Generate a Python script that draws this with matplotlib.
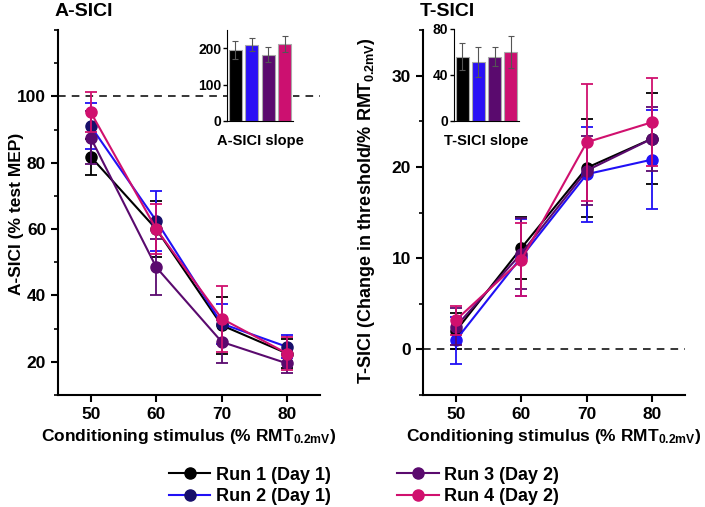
import matplotlib.pyplot as plt
import numpy as np
from matplotlib.lines import Line2D
from matplotlib.ticker import MultipleLocator

plt.rcParams["font.family"] = ["Liberation Sans", "DejaVu Sans"]
plt.rcParams["font.weight"] = "bold"
plt.rcParams["mathtext.fontset"] = "custom"
plt.rcParams["mathtext.rm"] = "Liberation Sans:bold"
plt.rcParams["mathtext.it"] = "Liberation Sans:bold"
plt.rcParams["mathtext.bf"] = "Liberation Sans:bold"

# conditioning stimulus (% RMT)
stim = [50, 60, 70, 80]
runs = ["Run 1 (Day 1)", "Run 2 (Day 1)", "Run 3 (Day 2)", "Run 4 (Day 2)"]

# A-SICI (% test MEP), mean and error
asici_mean = [
    [81.8, 60.0, 31.0, 22.5],
    [91.0, 62.5, 31.5, 24.5],
    [87.5, 48.5, 26.0, 19.5],
    [95.2, 60.0, 33.0, 22.5],
]
asici_err = [
    [5.5, 8.5, 8.5, 4.5],
    [7.0, 9.0, 6.0, 3.5],
    [8.0, 8.5, 6.5, 3.0],
    [6.0, 7.5, 10.0, 5.0],
]

# T-SICI (change in threshold), mean and error
tsici_mean = [
    [2.0, 11.1, 19.9, 23.1],
    [1.0, 10.1, 19.2, 20.8],
    [2.5, 10.5, 19.6, 23.1],
    [3.2, 9.8, 22.7, 24.9],
]
tsici_err = [
    [2.0, 3.4, 5.4, 5.0],
    [2.6, 4.2, 5.2, 5.4],
    [2.0, 3.9, 3.8, 3.5],
    [1.6, 4.0, 6.4, 4.8],
]

# slope insets
asici_slope = [195, 210, 182, 212]
asici_slope_err = [24, 17, 21, 22]
tsici_slope = [56, 51, 56, 60]
tsici_slope_err = [12, 13, 8.5, 14]

line_colors = ["#000000", "#2010f5", "#5a0a6e", "#d0106e"]
marker_colors_a = ["#000000", "#170f6a", "#5a0a6e", "#d0106e"]
marker_colors_t = ["#000000", "#2010f5", "#5a0a6e", "#d0106e"]
bar_colors = ["#000000", "#2a10f5", "#5a0a6e", "#cc1070"]

W, H = 705, 507
fig = plt.figure(figsize=(W / 100, H / 100), dpi=100)


def px_axes(x0, y0, x1, y1):
    return fig.add_axes([x0 / W, 1 - y1 / H, (x1 - x0) / W, (y1 - y0) / H])


def style_main(ax):
    for s in ["top", "right"]:
        ax.spines[s].set_visible(False)
    for s in ["left", "bottom"]:
        ax.spines[s].set_linewidth(1.5)
    ax.tick_params(which="major", direction="out", length=5, width=1.5, labelsize=12.5)
    ax.tick_params(which="minor", direction="out", length=3, width=1.2)
    ax.tick_params(axis="x", which="minor", bottom=False)


def draw_panel(ax, means, errs, mcolors):
    for i in range(len(runs)):
        ax.errorbar(stim, means[i], yerr=errs[i], color=line_colors[i], lw=1.5,
                    marker="o", ms=8, mfc=mcolors[i], mec=mcolors[i],
                    ecolor=line_colors[i], elinewidth=1.3, capsize=4.5, capthick=1.3,
                    zorder=3 + i)
    ax.set_xlim(45, 85)
    ax.set_xticks(stim)
    ax.set_xlabel(r"Conditioning stimulus (% RMT$_{\mathrm{0.2mV}}$)", fontsize=12.5,
                  fontweight="bold")


def draw_inset(ax, vals, errs, ymax, yticks, label):
    ax.bar(range(4), vals, width=0.8, color=bar_colors, edgecolor="#aaaaaa", linewidth=0.8)
    ax.errorbar(range(4), vals, yerr=errs, fmt="none", ecolor="#555555",
                elinewidth=0.8, capsize=2.5, capthick=0.8)
    ax.set_xlim(-0.5, 3.5)
    ax.set_ylim(0, ymax)
    ax.set_yticks(yticks)
    ax.set_xticks([])
    for s in ["top", "right"]:
        ax.spines[s].set_visible(False)
    ax.tick_params(axis="y", labelsize=10, length=3, width=1, pad=1)
    ax.set_xlabel(label, fontsize=10.5, fontweight="bold", labelpad=9)


# left panel: A-SICI
ax1 = px_axes(58, 30, 320, 395)
style_main(ax1)
draw_panel(ax1, asici_mean, asici_err, marker_colors_a)
ax1.axhline(100, color="black", lw=1.1, ls=(0, (5, 4)), zorder=1)
ax1.set_ylim(10, 120)
ax1.set_yticks([20, 40, 60, 80, 100])
ax1.yaxis.set_minor_locator(MultipleLocator(10))
ax1.set_ylabel("A-SICI (% test MEP)", fontsize=12.5, fontweight="bold")
ax1.yaxis.set_label_coords((24 - 58) / 262, (507 - 214 - 112) / 365)
fig.text(55 / W, 1 - 11 / H, "A-SICI", fontsize=14, fontweight="bold", ha="left", va="center")

ins1 = px_axes(227, 30, 293, 121)
draw_inset(ins1, asici_slope, asici_slope_err, 250, [0, 100, 200], "A-SICI slope")

# right panel: T-SICI
ax2 = px_axes(423, 30, 685, 395)
style_main(ax2)
draw_panel(ax2, tsici_mean, tsici_err, marker_colors_t)
ax2.axhline(0, color="black", lw=1.1, ls=(0, (5, 4)), zorder=1)
ax2.set_ylim(-5, 35)
ax2.set_yticks([0, 10, 20, 30])
ax2.yaxis.set_minor_locator(MultipleLocator(5))
ax2.set_ylabel(r"T-SICI (Change in threshold/% RMT$_{\mathrm{0.2mV}}$)", fontsize=13,
               fontweight="bold")
ax2.yaxis.set_label_coords((377 - 423) / 262, (507 - 211 - 112) / 365)
fig.text(420 / W, 1 - 11 / H, "T-SICI", fontsize=14, fontweight="bold", ha="left", va="center")

ins2 = px_axes(454, 29, 519, 121)
draw_inset(ins2, tsici_slope, tsici_slope_err, 80, [0, 40, 80], "T-SICI slope")

# legend
handles = [
    Line2D([], [], color=line_colors[i], lw=1.5, marker="o", ms=8,
           mfc=marker_colors_a[i], mec=marker_colors_a[i])
    for i in range(len(runs))
]
fig.legend(handles, runs, loc="center", bbox_to_anchor=(364 / W, 1 - 486 / H),
           ncol=2, frameon=False, handlelength=2.3, handletextpad=0.3,
           columnspacing=3.7, labelspacing=0.25, prop={"weight": "bold", "size": 13})

fig.savefig("out.png", dpi=100)
